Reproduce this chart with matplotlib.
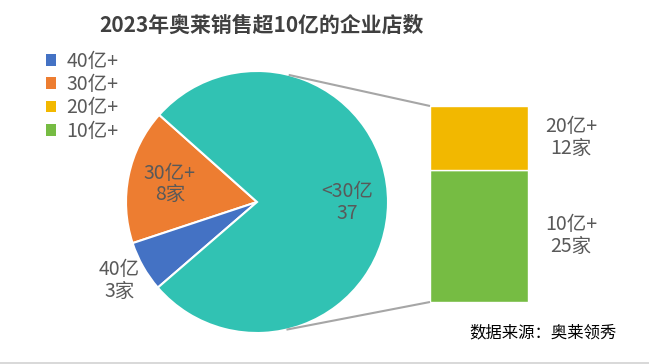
"""
Pie-of-bar chart: number of outlet malls with 2023 sales above 1 billion yuan.
"""
import numpy as np
import matplotlib.pyplot as plt
from matplotlib.patches import Patch, Rectangle

plt.rcParams['font.family'] = ['Noto Sans CJK SC', 'DejaVu Sans']

# pie part (drawn counter-clockwise from the start angle)
pie_labels = ['30亿+\n8家', '40亿\n3家', '<30亿\n37']
pie_values = [8, 3, 37]
pie_colors = ['#ED7D31', '#4472C4', '#31C2B3']

# bar part (the <30亿 slice split up), bottom to top
bar_labels = ['10亿+\n25家', '20亿+\n12家']
bar_values = [25, 12]
bar_colors = ['#76BC43', '#F2B800']

legend_labels = ['40亿+', '30亿+', '20亿+', '10亿+']
legend_colors = ['#4472C4', '#ED7D31', '#F2B800', '#76BC43']

TEXT = '#595959'
FS = 14

fig = plt.figure(figsize=(6.49, 3.64), dpi=100)
ax = fig.add_axes([0, 0, 1, 1])

# geometry in pixel units (y up)
cx, cy, r = 257, 162, 131
wedges, _ = ax.pie(pie_values, colors=pie_colors, startangle=138.3, counterclock=True,
                   center=(cx, cy), radius=r,
                   wedgeprops=dict(edgecolor='white', linewidth=1.5))

label_dist = [0.68, 1.21, 0.69]
for w, lab, d in zip(wedges, pie_labels, label_dist):
    mid = np.deg2rad((w.theta1 + w.theta2) / 2)
    ax.text(cx + d * r * np.cos(mid), cy + d * r * np.sin(mid), lab,
            ha='center', va='center', fontsize=FS, color=TEXT, linespacing=1.05)

bar_x, bar_w, bar_base = 479, 98, 62
scale = 196 / sum(bar_values)
bottom = bar_base
for v, c, lab in zip(bar_values, bar_colors, bar_labels):
    ax.bar(bar_x, v * scale, width=bar_w, bottom=bottom, color=c,
           edgecolor='white', linewidth=1.0)
    ax.text(571, bottom + v * scale / 2, lab, ha='center', va='center',
            fontsize=FS, color=TEXT, linespacing=1.05)
    bottom += v * scale

# connector lines from pie to bar corners
bar_left = bar_x - bar_w / 2
for ang, y_end in [(76, bottom), (-77, bar_base)]:
    a = np.deg2rad(ang)
    ax.plot([cx + r * np.cos(a), bar_left], [cy + r * np.sin(a), y_end],
            color='#A6A6A6', lw=1.5, solid_capstyle='butt')

ax.set_xlim(0, 649)
ax.set_ylim(0, 364)
ax.axis('off')

handles = [Patch(facecolor=c, edgecolor='none') for c in legend_colors]
ax.legend(handles, legend_labels, loc='upper left', bbox_to_anchor=(36 / 649, 1 - 41 / 364),
          frameon=False, fontsize=FS, labelcolor=TEXT, handlelength=0.55,
          handleheight=0.55, handletextpad=0.5, labelspacing=0.12, borderpad=0)

fig.text(261 / 649, 1 - 25 / 364, '2023年奥莱销售超10亿的企业店数', ha='center', va='center',
         fontsize=15, fontweight='bold', color='#404040')
fig.text(543 / 649, 1 - 333 / 364, '数据来源：奥莱领秀', ha='center', va='center',
         fontsize=11.8, color='black')

fig.patches.append(Rectangle((0, 0), 1, 2 / 364, transform=fig.transFigure,
                             facecolor='#D9D9D9', edgecolor='none'))

fig.savefig('out.png', dpi=100)
